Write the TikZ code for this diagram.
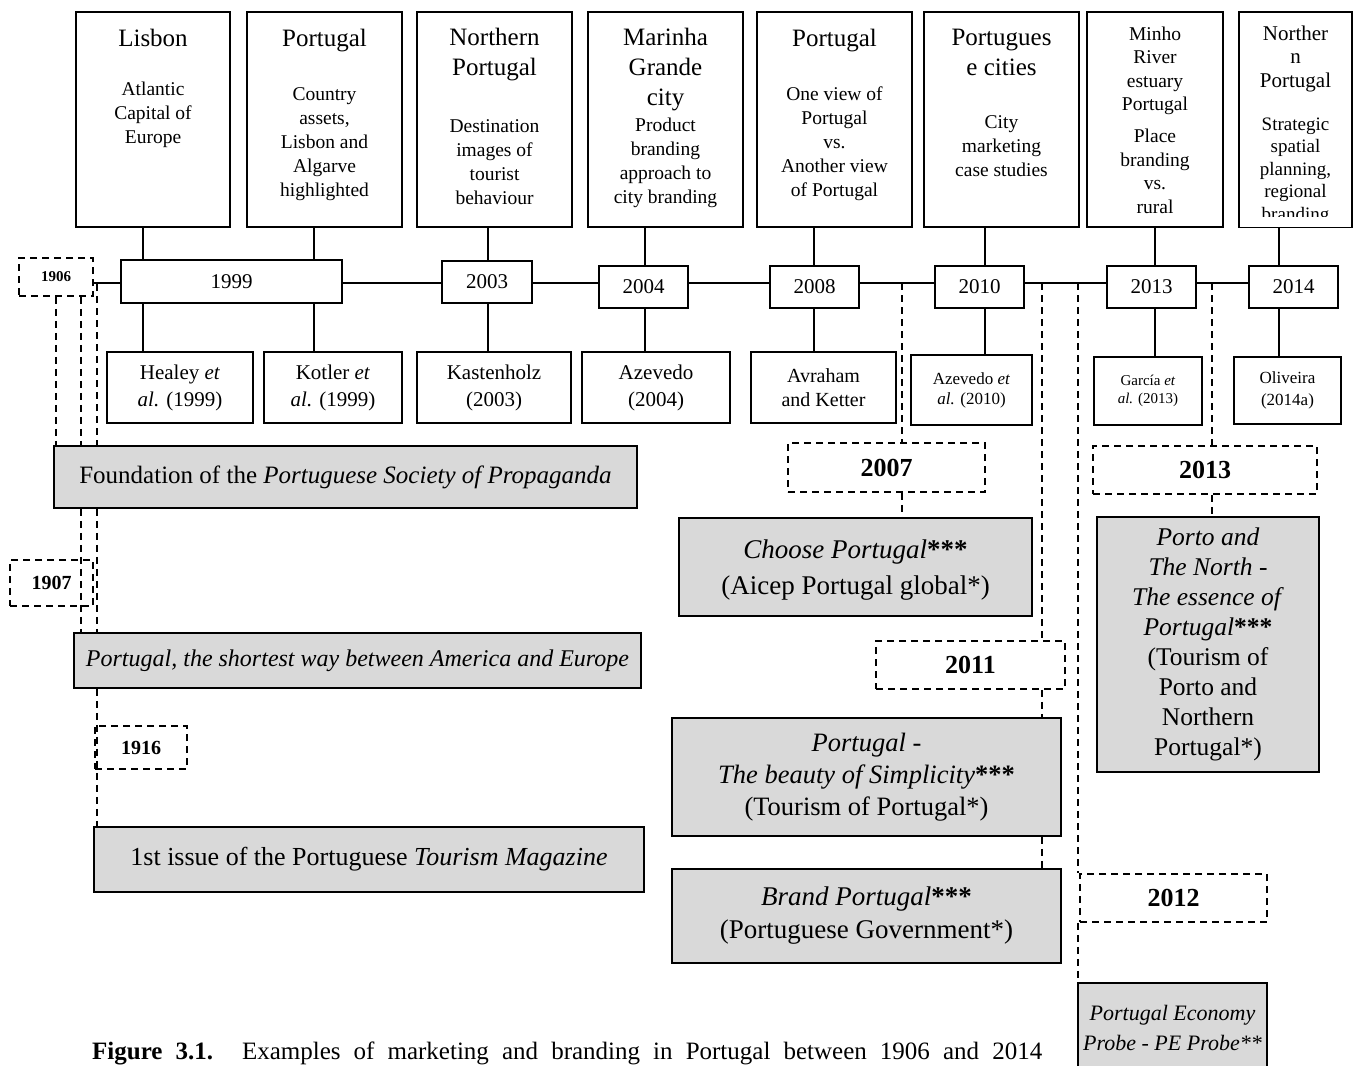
\documentclass[tikz,border=0pt]{standalone}
\usepackage{fontspec}
\setmainfont{Liberation Serif}
\usepackage{xcolor}
\usepackage{tikz}
\definecolor{boxgray}{HTML}{D9D9D9}
% text cell for the tall boxes: fixed height, text starts at the top
\newcommand{\cell}[3]{\parbox[c][#2][t]{#1}{\centering #3}}
\newcommand{\ttl}{\fontsize{25}{30}\selectfont}
\newcommand{\txt}{\fontsize{19.5}{24}\selectfont}

\begin{document}
\begin{tikzpicture}[x=1pt, y=-1pt,
    topbox/.style={draw, line width=1.6pt, fill=white, inner sep=0pt, minimum height=215pt},
    yearbox/.style={draw, line width=1.6pt, fill=white, inner sep=0pt, minimum height=42pt,
                    font=\fontsize{21}{24}\selectfont},
    refbox/.style={draw, line width=1.6pt, fill=white, inner sep=0pt, align=center},
    datebox/.style={draw, line width=1.6pt, dash pattern=on 7pt off 5pt, inner sep=0pt},
    gbox/.style={draw, line width=1.6pt, fill=boxgray, inner sep=0pt, align=center},
    conn/.style={line width=1.6pt},
    dconn/.style={line width=1.6pt, dash pattern=on 7pt off 5pt},
]
\useasboundingbox (0,0) rectangle (1353,1066);
\clip (0,0) rectangle (1353,1066);

% Studies: places and subjects
\node[topbox, minimum width=154pt] (tLisbon) at (153,119.5) {\cell{150pt}{215pt}{%
  \ttl\rule{0pt}{34pt}Lisbon\par\vspace{25pt}\txt Atlantic\\Capital of\\Europe\par}};
\node[topbox, minimum width=155pt] (tPortugal) at (324.5,119.5) {\cell{150pt}{215pt}{%
  \ttl\rule{0pt}{34pt}Portugal\par\vspace{30pt}\txt Country\\assets,\\Lisbon and\\Algarve\\highlighted\par}};
\node[topbox, minimum width=155pt] (tNorth) at (494.5,119.5) {\cell{150pt}{215pt}{%
  \ttl\rule{0pt}{33pt}Northern\\Portugal\par\vspace{33pt}\txt Destination\\images of\\tourist\\behaviour\par}};
\node[topbox, minimum width=155pt] (tMarinha) at (665.5,119.5) {\cell{150pt}{215pt}{%
  \ttl\rule{0pt}{33pt}Marinha\\Grande\\city\par\vspace{2pt}\txt Product\\branding\\approach to\\city branding\par}};
\node[topbox, minimum width=155pt] (tView) at (834.5,119.5) {\cell{150pt}{215pt}{%
  \ttl\rule{0pt}{34pt}Portugal\par\vspace{30pt}\txt One view of\\Portugal\\vs.\\Another view\\of Portugal\par}};
\node[topbox, minimum width=155pt] (tCities) at (1001.5,119.5) {\cell{150pt}{215pt}{%
  \ttl\rule{0pt}{33pt}Portugues\\e cities\par\vspace{29pt}\txt City\\marketing\\case studies\par}};
\node[topbox, minimum width=136pt] (tMinho) at (1155,119.5) {\cell{132pt}{215pt}{%
  \fontsize{19.5}{23.5}\selectfont\rule{0pt}{28pt}Minho\\River\\estuary\\Portugal\par
  \vspace{8.5pt}Place\\branding\\vs.\\rural\par}};
\node[topbox, minimum width=113pt] (tNorth2) at (1295.5,119.5) {\cell{110pt}{215pt}{%
  \fontsize{21}{23.5}\selectfont\rule{0pt}{28pt}Norther\\n\\Portugal\par
  \vspace{20.5pt}\fontsize{19}{22.5}\selectfont Strategic\\spatial\\planning,\\regional\\branding\par}};
% last line is cut by the box margin
\fill[white] ([xshift=1.5pt,yshift=11pt]tNorth2.south west) rectangle ([xshift=-1.5pt,yshift=1pt]tNorth2.south east);

% Timeline years
\node[yearbox, minimum width=221pt, minimum height=43pt] (y1999) at (231.5,281.5) {1999};
\node[yearbox, minimum width=90pt] (y2003) at (487,282) {2003};
\node[yearbox, minimum width=89pt] (y2004) at (643.5,287) {2004};
\node[yearbox, minimum width=89pt] (y2008) at (814.5,287) {2008};
\node[yearbox, minimum width=89pt] (y2010) at (979.5,287) {2010};
\node[yearbox, minimum width=89pt] (y2013) at (1151.5,287) {2013};
\node[yearbox, minimum width=89pt] (y2014) at (1293.5,287) {2014};

% Authors
\node[refbox, minimum width=146pt, minimum height=71pt, font=\fontsize{21}{27}\selectfont] (rHealey) at (180,387.5) {Healey \textit{et}\\\textit{al.} (1999)};
\node[refbox, minimum width=138pt, minimum height=71pt, font=\fontsize{21}{27}\selectfont] (rKotler) at (333,387.5) {Kotler \textit{et}\\\textit{al.} (1999)};
\node[refbox, minimum width=154pt, minimum height=71pt, font=\fontsize{21}{27}\selectfont] (rKasten) at (494,387.5) {Kastenholz\\(2003)};
\node[refbox, minimum width=148pt, minimum height=71pt, font=\fontsize{21}{27}\selectfont] (rAzev) at (656,387.5) {Azevedo\\(2004)};
\node[refbox, minimum width=145pt, minimum height=71pt, font=\fontsize{20}{24}\selectfont] (rAvraham) at (823.5,387.5) {Avraham\\and Ketter};
\node[refbox, minimum width=121pt, minimum height=70pt, font=\fontsize{17}{20}\selectfont] (rAzev10) at (971.5,390) {Azevedo \textit{et}\\\textit{al.} (2010)};
\node[refbox, minimum width=108pt, minimum height=68pt, font=\fontsize{15}{18}\selectfont] (rGarcia) at (1148,391) {García \textit{et}\\\textit{al.} (2013)};
\node[refbox, minimum width=107pt, minimum height=67pt, font=\fontsize{17}{22}\selectfont] (rOliveira) at (1287.5,390.5) {Oliveira\\(2014a)};

% Links from studies to years and authors
\foreach \t/\y/\r/\d in {tLisbon/y1999/rHealey/-10, tPortugal/y1999/rKotler/-10.5,
    tNorth/y2003/rKasten/-6.5, tMarinha/y2004/rAzev/-20.5, tView/y2008/rAvraham/-20.5,
    tCities/y2010/rAzev10/-16.5, tMinho/y2013/rGarcia/0, tNorth2/y2014/rOliveira/-16.5} {
  \draw[conn] ([xshift=\d pt]\t.south) -- ([xshift=\d pt]\t.south |- \y.north);
  \draw[conn] ([xshift=\d pt]\t.south |- \y.south) -- ([xshift=\d pt]\t.south |- \r.north);
}

% Campaign years
\node[datebox, minimum width=74pt, minimum height=38pt, font=\bfseries\fontsize{15}{17}\selectfont] (d1906) at (56,277) {1906};
\node[datebox, minimum width=83pt, minimum height=46pt, font=\bfseries\fontsize{20}{22}\selectfont] (d1907) at (51.5,583) {1907};
\node[datebox, minimum width=92pt, minimum height=43pt, font=\bfseries\fontsize{20}{22}\selectfont] (d1916) at (141,747.5) {1916};
\node[datebox, minimum width=197pt, minimum height=49pt, font=\bfseries\fontsize{26}{28}\selectfont] (d2007) at (886.5,467.5) {2007};
\node[datebox, minimum width=189pt, minimum height=48pt, font=\bfseries\fontsize{26}{28}\selectfont] (d2011) at (970.5,665) {2011};
\node[datebox, minimum width=187pt, minimum height=48pt, font=\bfseries\fontsize{26}{28}\selectfont] (d2012) at (1173.5,898) {2012};
\node[datebox, minimum width=224pt, minimum height=48pt, font=\bfseries\fontsize{26}{28}\selectfont] (d2013) at (1205,470) {2013};

% Campaigns
\node[gbox, minimum width=583pt, minimum height=62pt, font=\fontsize{25}{28}\selectfont] (gFound) at (345.5,477)
  {Foundation of the \textit{Portuguese Society of Propaganda}};
\node[gbox, minimum width=567pt, minimum height=55pt, font=\itshape\fontsize{24}{28}\selectfont] (gShort) at (357.5,660.5)
  {Portugal, the shortest way between America and Europe};
\node[gbox, minimum width=550pt, minimum height=65pt, font=\fontsize{26}{28}\selectfont] (gMag) at (369,859.5)
  {1st issue of the Portuguese \textit{Tourism Magazine}};
\node[gbox, minimum width=353pt, minimum height=98pt, font=\fontsize{27}{36}\selectfont] (gChoose) at (855.5,567)
  {\rule{0pt}{24pt}\textit{Choose Portugal}\textbf{***}\\(Aicep Portugal global*)};
\node[gbox, minimum width=389pt, minimum height=118pt, font=\fontsize{26.5}{32}\selectfont] (gSimple) at (866.5,777)
  {\textit{Portugal -}\\\textit{The beauty of Simplicity}\textbf{***}\\(Tourism of Portugal*)};
\node[gbox, minimum width=389pt, minimum height=94pt, font=\fontsize{27}{33}\selectfont] (gBrand) at (866.5,916)
  {\textit{Brand Portugal}\textbf{***}\\(Portuguese Government*)};
\node[gbox, minimum width=222pt, minimum height=255pt, font=\fontsize{25.5}{30}\selectfont] (gPorto) at (1208,644.5)
  {\textit{Porto and}\\\textit{The North -}\\\textit{The essence of}\\\textit{Portugal}\textbf{***}\\(Tourism of\\Porto and\\Northern\\Portugal*)};
\node[gbox, minimum width=189pt, minimum height=90pt, font=\itshape\fontsize{22}{30}\selectfont] (gPE) at (1172.5,1028)
  {Portugal Economy\\Probe - PE Probe**};

% Timeline
\coordinate (tl) at (0,283);
\draw[conn] (d1906.east |- tl) -- (y1999.west |- tl);
\foreach \a/\b in {y1999/y2003, y2003/y2004, y2004/y2008, y2008/y2010, y2010/y2013, y2013/y2014}
  \draw[conn] (\a.east |- tl) -- (\b.west |- tl);

% Dashed links, early years
\coordinate (t1916) at (97,284);
\draw[dconn] (d1906.south) -- (d1906.south |- gFound.north);
\draw[dconn] ([xshift=25pt]d1906.south) -- ([xshift=25pt]d1906.south |- gFound.north);
\draw[dconn] ([xshift=25pt]d1906.south |- gFound.south) -- ([xshift=25pt]d1906.south |- gShort.north);
\draw[dconn] (t1916) -- (t1916 |- gFound.north);
\draw[dconn] (t1916 |- gFound.south) -- (t1916 |- gShort.north);
\draw[dconn] (t1916 |- gShort.south) -- (t1916 |- gMag.north);

% Dashed links, recent years
\coordinate (t2007) at (902,283);
\coordinate (t2011) at (1042,283);
\coordinate (t2012) at (1078,283);
\coordinate (t2013) at (1212,283);
\draw[dconn] (t2007) -- (t2007 |- d2007.north);
\draw[dconn] (t2007 |- d2007.south) -- (t2007 |- gChoose.north);
\draw[dconn] (t2011) -- (t2011 |- d2011.north);
\draw[dconn] (t2011 |- d2011.south) -- (t2011 |- gSimple.north);
\draw[dconn] (t2011 |- gSimple.south) -- (t2011 |- gBrand.north);
\draw[dconn] (t2012) -- (t2012 |- d2012.north);
\draw[dconn] (t2012 |- d2012.south) -- (t2012 |- gPE.north);
\draw[dconn] (t2013) -- (t2013 |- d2013.north);
\draw[dconn] (t2013 |- d2013.south) -- (t2013 |- gPorto.north);

% Caption
\node[anchor=base west, inner sep=0pt, font=\fontsize{25}{28}\selectfont] (caption) at (92,1059)
  {\makebox[950pt][s]{\textbf{Figure 3.1.} Examples of marketing and branding in Portugal between 1906 and 2014}};

\end{tikzpicture}
\end{document}
